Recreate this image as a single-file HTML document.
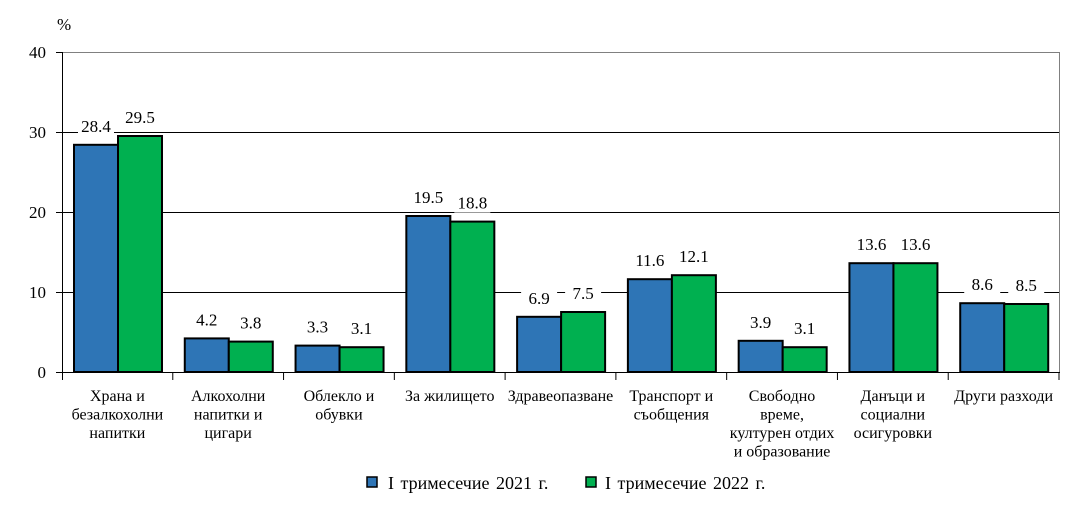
<!DOCTYPE html>
<html><head><meta charset="utf-8"><style>
body{margin:0;background:#fff}
svg{display:block;font-family:"Liberation Serif",serif}
</style></head><body>
<svg width="1078" height="525" viewBox="0 0 1078 525">
<rect x="0" y="0" width="1078" height="525" fill="#fff"/>
<line x1="62" y1="52.5" x2="1059" y2="52.5" stroke="#808080"/>
<line x1="1059.5" y1="52" x2="1059.5" y2="372" stroke="#808080"/>
<g stroke="#000" stroke-width="1">
<line x1="62" y1="132.5" x2="1059" y2="132.5"/>
<line x1="62" y1="212.5" x2="1059" y2="212.5"/>
<line x1="62" y1="292.5" x2="1059" y2="292.5"/>
</g>
<g font-size="17" text-anchor="end" fill="#000">
<text x="46" y="58">40</text><text x="46" y="138">30</text><text x="46" y="218">20</text><text x="46" y="298">10</text><text x="46" y="378">0</text>
</g>
<text x="57" y="30" font-size="17">%</text>
<g id="bars" stroke="#000" stroke-width="2"></g>
<g id="labels" font-size="17" text-anchor="middle"></g>
<line x1="62.5" y1="52" x2="62.5" y2="380" stroke="#000"/>
<line x1="56" y1="52.5" x2="62" y2="52.5" stroke="#000"/>
<line x1="56" y1="132.5" x2="62" y2="132.5" stroke="#000"/>
<line x1="56" y1="212.5" x2="62" y2="212.5" stroke="#000"/>
<line x1="56" y1="292.5" x2="62" y2="292.5" stroke="#000"/>
<line x1="56" y1="372.5" x2="1060" y2="372.5" stroke="#000"/>
<g id="ticks" stroke="#000"></g>
<g id="cats" font-size="16" text-anchor="middle"></g>
<rect x="367" y="477" width="10" height="10" fill="#2E75B6" stroke="#000" stroke-width="1.5"/>
<text x="388" y="489" font-size="18" word-spacing="2">I тримесечие 2021 г.</text>
<rect x="586" y="477" width="10" height="10" fill="#00B050" stroke="#000" stroke-width="1.5"/>
<text x="605" y="489" font-size="18" word-spacing="2">I тримесечие 2022 г.</text>
</svg>
<script>
var a=[28.4,4.2,3.3,19.5,6.9,11.6,3.9,13.6,8.6],b=[29.5,3.8,3.1,18.8,7.5,12.1,3.1,13.6,8.5];
var cats=[["Храна и","безалкохолни","напитки"],["Алкохолни","напитки  и","цигари"],["Облекло и","обувки"],["За жилището"],["Здравеопазване"],["Транспорт  и","съобщения"],["Свободно","време,","културен отдих","и образование"],["Данъци и","социални","осигуровки"],["Други разходи"]];
var ns="http://www.w3.org/2000/svg",cw=(1059-62)/9;
function el(p,t,at,tx){var e=document.createElementNS(ns,t);for(var k in at)e.setAttribute(k,at[k]);if(tx)e.textContent=tx;document.getElementById(p).appendChild(e);}
for(var i=0;i<9;i++){var x0=62+i*cw;
[[a[i],"#2E75B6",x0+12],[b[i],"#00B050",x0+56]].forEach(function(d){var h=d[0]*8;
el("bars","rect",{x:d[2],y:372-h,width:44,height:h,fill:d[1]});
el("labels","rect",{x:d[2]+4,y:372-h-29,width:36,height:20,fill:"#fff"});
el("labels","text",{x:d[2]+22,y:372-h-13},d[0].toFixed(1));});
el("ticks","line",{x1:x0+cw,y1:372,x2:x0+cw,y2:380});
cats[i].forEach(function(s,j){el("cats","text",{x:x0+cw/2,y:401+j*18.5},s);});}
</script>
</body></html>
